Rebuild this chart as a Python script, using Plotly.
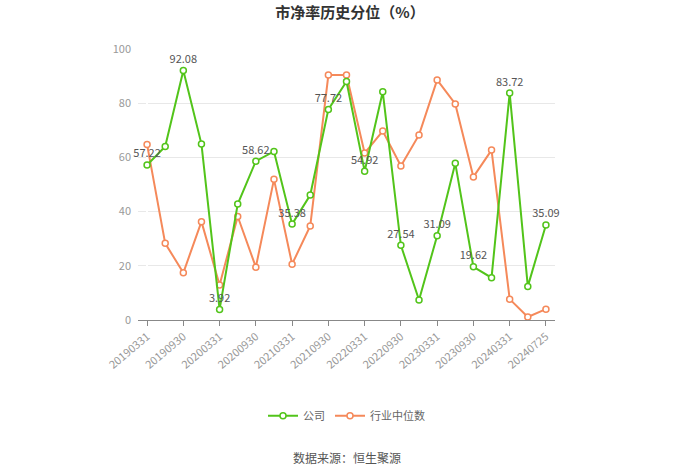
import plotly.graph_objects as go

dates = ["20190331","20190630","20190930","20191231","20200331","20200630","20200930","20201231",
         "20210331","20210630","20210930","20211231","20220331","20220630","20220930","20221231",
         "20230331","20230630","20230930","20231231","20240331","20240630","20240725"]
company = [57.22, 64.0, 92.08, 64.9, 3.92, 42.8, 58.62, 62.2, 35.38, 46.1, 77.72, 88.0,
           54.92, 84.2, 27.54, 7.4, 31.09, 57.8, 19.62, 15.6, 83.72, 12.4, 35.09]
industry = [64.8, 28.3, 17.4, 36.3, 12.9, 38.2, 19.5, 51.9, 20.6, 34.7, 90.4, 90.4,
            61.6, 69.7, 56.8, 68.3, 88.6, 79.7, 52.8, 62.7, 7.7, 1.1, 4.0]
yticks = [0, 20, 40, 60, 80, 100]

green = "#52c41a"
orange = "#f5895a"
x = list(range(len(dates)))
labels = [f"{v:.2f}" if i % 2 == 0 else "" for i, v in enumerate(company)]

fig = go.Figure()
fig.add_trace(go.Scatter(
    x=x, y=industry, name="行业中位数", mode="lines+markers",
    line=dict(color=orange, width=2),
    marker=dict(symbol="circle", size=6, color="white", line=dict(color=orange, width=1.5)),
    cliponaxis=False,
))
fig.add_trace(go.Scatter(
    x=x, y=company, name="公司", mode="lines+markers+text",
    text=labels, textposition="top center",
    textfont=dict(size=11, color="#555555", family="Noto Sans CJK SC"),
    line=dict(color=green, width=2),
    marker=dict(symbol="circle", size=6, color="white", line=dict(color=green, width=1.5)),
    cliponaxis=False,
))

fig.update_layout(
    width=700, height=474,
    margin=dict(l=138, r=145, t=49, b=154),
    paper_bgcolor="white", plot_bgcolor="white",
    font=dict(family="Noto Sans CJK SC", color="#999999", size=11),
    title=dict(text="<b>市净率历史分位（%）</b>", x=0.5, xanchor="center", y=0.985, yanchor="top",
               font=dict(size=15, color="#333333")),
    showlegend=True,
    legend=dict(orientation="h", x=0.5, xanchor="center", y=-0.30, yanchor="top",
                traceorder="reversed", font=dict(size=11, color="#666666")),
    annotations=[dict(text="数据来源：恒生聚源", x=0.5, xref="paper", y=-0.47, yref="paper",
                      xanchor="center", yanchor="top", showarrow=False,
                      font=dict(size=12, color="#555555"))],
)
fig.update_xaxes(
    range=[-0.5, len(dates) - 0.5],
    tickmode="array", tickvals=x[::2], ticktext=dates[::2], tickangle=-40,
    showgrid=False, showline=True, linecolor="#888888", linewidth=1,
    ticks="outside", ticklen=5, tickcolor="#888888",
    tickfont=dict(size=11, color="#999999"),
)
fig.update_yaxes(
    range=[0, 100], tickvals=yticks, showgrid=True, gridcolor="#e8e8e8",
    zeroline=False, showline=False, ticks="", ticklabelstandoff=6,
    tickfont=dict(size=11, color="#999999"),
)
fig.write_html("out.html")
